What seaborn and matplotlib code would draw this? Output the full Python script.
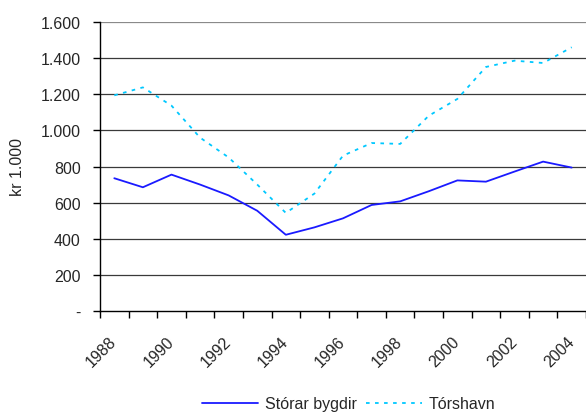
import matplotlib
matplotlib.use("Agg")
import matplotlib.pyplot as plt
import matplotlib.transforms as mtransforms
import seaborn as sns
import pandas as pd
import numpy as np
from matplotlib.ticker import FixedLocator
from matplotlib.lines import Line2D

years = list(range(1988, 2005))
storar_bygdir = [735, 685, 755, 700, 640, 555, 422, 463, 513, 587, 607, 663, 723, 716, 772, 827, 794]
torshavn = [1194, 1238, 1137, 960, 850, 700, 543, 650, 860, 930, 925, 1081, 1174, 1351, 1386, 1373, 1460]
series_names = ["Stórar bygdir", "Tórshavn"]
y_ticks = [0, 200, 400, 600, 800, 1000, 1200, 1400, 1600]
y_ticklabels = ["-", "200", "400", "600", "800", "1.000", "1.200", "1.400", "1.600"]

sns.set_style("white")
plt.rcParams['font.family'] = ['Liberation Sans', 'DejaVu Sans']
FS = 11.5
BLUE = "#1a1aff"
CYAN = "#00c8ff"
DOTS = (2.0, 3.0)

df = pd.DataFrame({
    "idx": list(range(len(years))) * 2,
    "value": storar_bygdir + torshavn,
    "series": [series_names[0]] * len(years) + [series_names[1]] * len(years),
})

fig = plt.figure(figsize=(5.86, 4.14), dpi=100)
ax = fig.add_axes([100/586, 1 - 312/414, 1 - 100/586, (312 - 23)/414])

sns.lineplot(data=df, x="idx", y="value", hue="series", style="series",
             palette={series_names[0]: BLUE, series_names[1]: CYAN},
             dashes={series_names[0]: "", series_names[1]: DOTS},
             linewidth=1.3, ax=ax, legend=False)

ax.set_xlim(-0.5, len(years) - 0.5)
ax.set_ylim(0, 1600)
ax.set_yticks(y_ticks)
ax.set_yticklabels(y_ticklabels, fontsize=FS)
for y in y_ticks[1:]:
    ax.axhline(y, color="#3a3a3a" if y < 1600 else "#8a8a8a", lw=0.9, zorder=0)

major = [i for i, y in enumerate(years) if y % 2 == 0]
ax.set_xticks(major)
ax.set_xticklabels([str(years[i]) for i in major], fontsize=FS, rotation=45,
                   ha="right", va="center", rotation_mode="anchor")
offset = mtransforms.ScaledTranslation(-9/100, 3/100, fig.dpi_scale_trans)
for lbl in ax.get_xticklabels():
    lbl.set_transform(lbl.get_transform() + offset)
ax.xaxis.set_minor_locator(FixedLocator(np.arange(-0.5, len(years), 1.0)))
ax.tick_params(axis="x", which="major", length=0, pad=20)
ax.tick_params(axis="x", which="minor", length=5, width=1, color="black", direction="out", bottom=True)
ax.tick_params(axis="y", length=5, width=1, color="black", direction="out", left=True, pad=9)

for s in ["top", "right"]:
    ax.spines[s].set_visible(False)
for s in ["left", "bottom"]:
    ax.spines[s].set_color("black")
    ax.spines[s].set_linewidth(1)

ax.set_xlabel("")
ax.set_ylabel("kr 1.000", fontsize=FS)
ax.yaxis.set_label_coords(-0.155, 0.5)

handles = [Line2D([], [], color=BLUE, lw=1.3),
           Line2D([], [], color=CYAN, lw=1.3, dashes=DOTS)]
fig.legend(handles, series_names, loc="center", bbox_to_anchor=(0.595, 1 - 405/414),
           ncol=2, frameon=False, fontsize=FS, handlelength=3.5, columnspacing=0.6,
           handletextpad=0.4)

fig.savefig("out.png", dpi=100)
